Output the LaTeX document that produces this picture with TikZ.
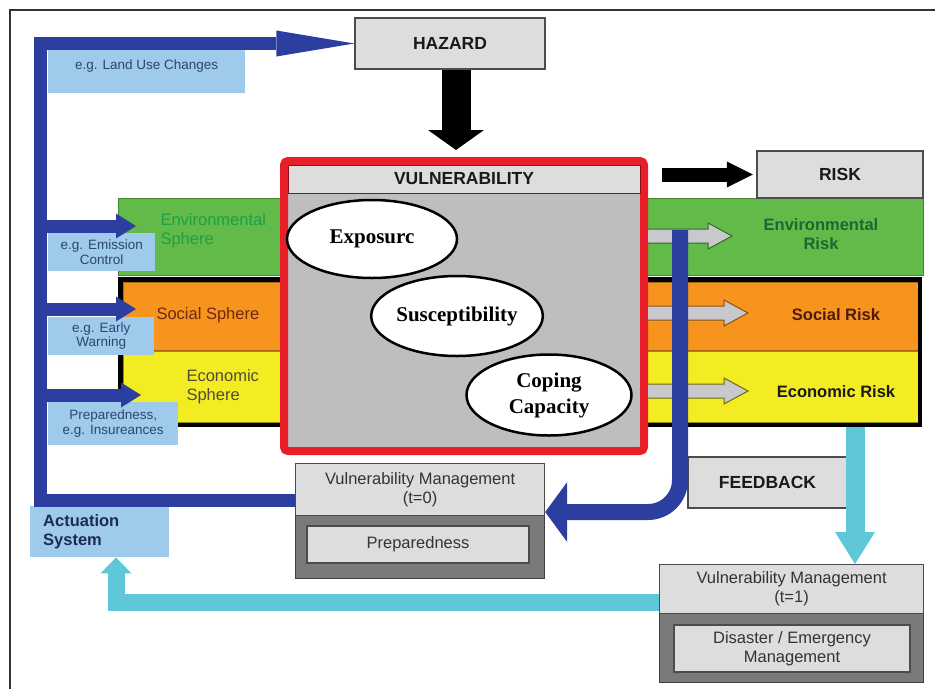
\documentclass[tikz,border=0pt]{standalone}
\usepackage{fontspec}
\setmainfont{Liberation Sans}
\newfontfamily\ellipsefont{Liberation Serif}
\usepackage{tikz}
\usetikzlibrary{arrows.meta,calc,shapes.geometric}

\definecolor{arrowblue}{RGB}{44,62,160}
\definecolor{labelblue}{RGB}{158,202,236}
\definecolor{labeltext}{RGB}{44,70,112}
\definecolor{navytext}{RGB}{28,44,88}
\definecolor{boxgray}{RGB}{221,221,221}
\definecolor{mgmtdark}{RGB}{122,122,122}
\definecolor{vulnred}{RGB}{232,30,40}
\definecolor{vulngray}{RGB}{190,190,190}
\definecolor{riskgray}{RGB}{200,200,205}
\definecolor{envgreen}{RGB}{98,186,72}
\definecolor{envtext}{RGB}{30,160,70}
\definecolor{envrisktext}{RGB}{28,104,52}
\definecolor{socorange}{RGB}{247,148,30}
\definecolor{soctext}{RGB}{110,40,20}
\definecolor{ecoyellow}{RGB}{243,236,34}
\definecolor{ecotext}{RGB}{80,76,56}
\definecolor{feedcyan}{RGB}{94,200,216}

% grey block arrow from the vulnerability box to a risk band
\newcommand{\riskarrow}[2]{%
  \filldraw[fill=riskgray, draw=#2, line width=1pt, line join=miter]
    ($(vuln.east |- #1)+(0,-7)$) -- ($(#1)+(-24,-7)$) -- ($(#1)+(-24,-13)$) -- (#1)
    -- ($(#1)+(-24,13)$) -- ($(#1)+(-24,7)$) -- ($(vuln.east |- #1)+(0,7)$);}

\begin{document}
\begin{tikzpicture}[x=1pt, y=-1pt,
  titlebox/.style={draw=black!70, line width=1.2pt, fill=boxgray, inner sep=0pt,
    font=\fontsize{17.5}{20}\selectfont\bfseries, text=black!90},
  mgmtbox/.style={draw=black!70, line width=1.2pt, fill=boxgray, inner sep=0pt,
    align=center, font=\fontsize{16.5}{19}\selectfont, text=black!80},
  labelbox/.style={fill=labelblue, inner sep=0pt, align=center,
    font=\fontsize{13.5}{14.5}\selectfont, text=labeltext},
  band/.style={inner sep=0pt, line width=0.6pt},
  spheretext/.style={align=left, font=\fontsize{16.5}{19}\selectfont},
  risktext/.style={align=center, font=\fontsize{16.5}{19}\selectfont\bfseries},
  factor/.style={ellipse, draw=black, line width=2.5pt, fill=white, inner sep=0pt,
    align=center, font=\ellipsefont\fontsize{21}{26}\selectfont\bfseries},
  bluearrow/.style={draw=arrowblue, line width=13pt, line join=miter,
    -{Triangle[width=25pt,length=20pt,line width=0pt]}},
  blackarrow/.style={draw=black, line join=miter},
  cyanarrow/.style={draw=feedcyan, line join=miter}
]
\useasboundingbox (0,0) rectangle (935,689);
\draw[black!80, line width=1.5pt] (935,10) -- (10,10) -- (10,689);

% spheres
\node[band, fill=envgreen, draw=envgreen!70!black, minimum width=805pt, minimum height=77pt] (envband) at (520.5,236.5) {};
\node[band, fill=socorange, draw=socorange!70!black, minimum width=795pt, minimum height=68pt] (socband) at (520.5,316) {};
\node[band, fill=ecoyellow, draw=ecoyellow!60!black, minimum width=795pt, minimum height=71pt] (ecoband) at (520.5,386.5) {};
\node[draw=black, line width=4.5pt, inner sep=0pt, minimum width=799.5pt, minimum height=145.5pt] (soceco) at (520,352) {};

\node[spheretext, text=envtext, anchor=west] (envsphere) at (157,231) {Environmental\\Sphere};
\node[spheretext, text=soctext, anchor=west] (socsphere) at (153,315) {Social Sphere};
\node[spheretext, text=ecotext, anchor=west] (ecosphere) at (183,387) {Economic\\Sphere};
\node[risktext, text=envrisktext] (envrisk) at (821,234) {Environmental\\Risk};
\node[risktext, text=soctext!70!black] (socrisk) at (836,315) {Social Risk};
\node[risktext, text=black!90] (ecorisk) at (836,392) {Economic Risk};

% actuation labels
\node[labelbox, anchor=north west, minimum width=197pt, text height=19pt, text depth=24pt] (landuse) at (48,50) {e.g. Land Use Changes};
\node[labelbox, anchor=north west, minimum width=107pt, minimum height=38pt] (emission) at (48,233) {e.g. Emission\\Control};
\node[labelbox, anchor=north west, minimum width=106pt, minimum height=38pt] (warning) at (48,317) {e.g. Early\\Warning};
\node[labelbox, anchor=north west, minimum width=130pt, minimum height=43pt] (insurance) at (48,402) {Preparedness,\\e.g. Insureances};

% vulnerability
\node[draw=vulnred, line width=8pt, fill=vulngray, rounded corners=4pt, inner sep=0pt,
  minimum width=360pt, minimum height=290pt] (vuln) at (464,306) {};
\node[titlebox, draw=vulnred!60!black, line width=0.6pt, minimum width=352pt, minimum height=28pt] (vulnt) at (464,179) {VULNERABILITY};
\node[factor, minimum width=170pt, minimum height=78pt] (exposure) at (372,239) {Exposurc};
\node[factor, minimum width=158pt, minimum height=80pt] (suscept) at (457,316) {Susceptibility};
\node[factor, minimum width=165pt, minimum height=81pt] (coping) at (549,395) {Coping\\Capacity};

\coordinate (envtip) at (732,236);
\coordinate (soctip) at (748,313);
\coordinate (ecotip) at (748,391);
\riskarrow{envtip}{envgreen!55!black}
\riskarrow{soctip}{socorange!55!black}
\riskarrow{ecotip}{ecoyellow!45!black}

% boxes
\node[titlebox, minimum width=190pt, minimum height=51pt] (hazard) at (450,43.5) {HAZARD};
\node[titlebox, minimum width=166pt, minimum height=47pt] (risk) at (840,174.5) {RISK};
\node[titlebox, minimum width=159pt, minimum height=51pt] (feedback) at (767.5,482.5) {FEEDBACK};

\node[draw=black!75, line width=1.2pt, fill=mgmtdark, minimum width=249pt, minimum height=115pt, anchor=north west] (vmzero) at (295,463) {};
\node[mgmtbox, minimum width=249pt, minimum height=52pt, anchor=north] (vmzerot) at (vmzero.north) {Vulnerability Management\\(t=0)};
\node[mgmtbox, minimum width=222pt, minimum height=37pt] (prep) at (418,544.5) {Preparedness};

\node[draw=black!75, line width=1.2pt, fill=mgmtdark, minimum width=264pt, minimum height=118pt, anchor=north west] (vmone) at (659,564) {};
\node[mgmtbox, minimum width=264pt, minimum height=49pt, anchor=north] (vmonet) at (vmone.north) {Vulnerability Management\\(t=1)};
\node[mgmtbox, minimum width=236pt, minimum height=47pt] (disaster) at (792,648.5) {Disaster / Emergency\\Management};

\node[labelbox, anchor=north west, minimum width=139pt, minimum height=51pt, text width=113pt, align=left,
  font=\fontsize{16.5}{19}\selectfont\bfseries, text=navytext] (actuation) at (30,506) {Actuation\\System};

% feedback loop
\coordinate (fbtop) at (680,230);
\coordinate (fbturn) at (680,512);
\draw[draw=arrowblue, line width=16pt, rounded corners=32pt, -{Triangle[width=60pt,length=22pt,line width=0pt]}]
  (fbtop) -- (fbturn) -- (fbturn -| vmzero.east);

% actuation arrows
\coordinate (lb) at (40,500);
\coordinate (lt) at (40,43.5);
\coordinate (eb) at (136,226);
\coordinate (sb) at (136,309);
\coordinate (cb) at (141,395);
\draw[bluearrow, -{Triangle[width=26pt,length=78pt,line width=0pt]}] (vmzerot.west |- lb) -- (lb) -- (lt) -- (hazard.west);
\draw[bluearrow] (lb |- eb) -- (eb);
\draw[bluearrow] (lb |- sb) -- (sb);
\draw[bluearrow] (lb |- cb) -- (cb);

\draw[blackarrow, line width=29pt, -{Triangle[width=56pt,length=20pt,line width=0pt]}, shorten >=7pt]
  ([xshift=6pt]hazard.south) -- ([xshift=6pt]hazard.south |- vuln.north);
\draw[blackarrow, line width=14pt, -{Triangle[width=26pt,length=26pt,line width=0pt]}, shorten <=14pt, shorten >=3.5pt]
  (vuln.east |- risk.west) -- (risk.west);

\coordinate (cyx) at (855,0);
\coordinate (cl) at (116,602);
\draw[cyanarrow, line width=19pt, -{Triangle[width=40pt,length=32pt,line width=0pt]}]
  (soceco.south -| cyx) -- (vmone.north -| cyx);
\draw[cyanarrow, line width=17pt, -{Triangle[width=31pt,length=16pt,line width=0pt]}]
  (vmonet.west |- cl) -- (cl) -- (cl |- actuation.south);
\end{tikzpicture}
\end{document}
